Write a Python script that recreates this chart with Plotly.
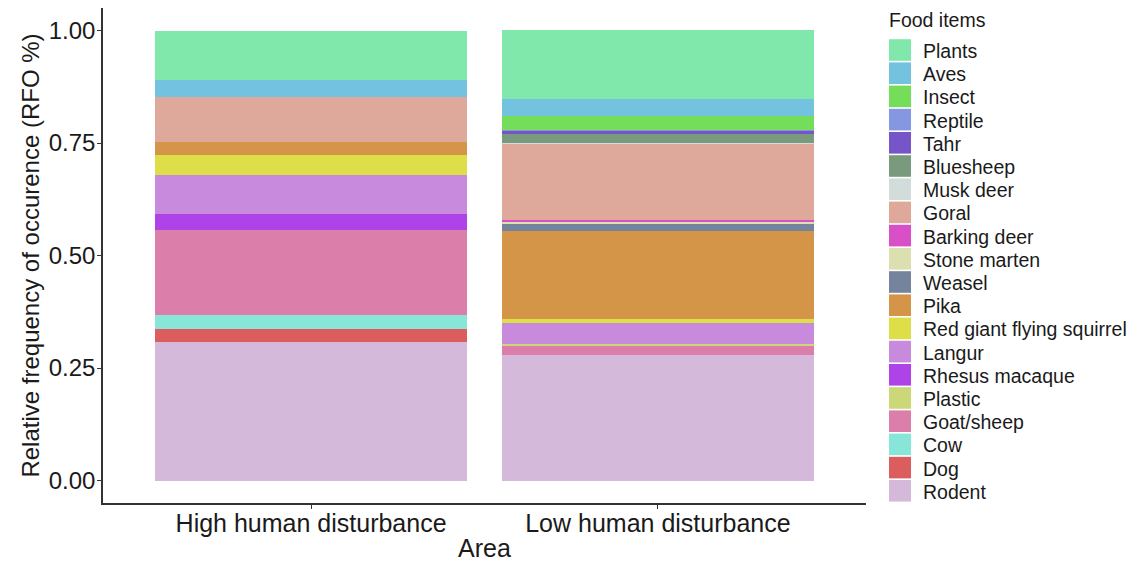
import plotly.graph_objects as go

areas = ["High human disturbance", "Low human disturbance"]

# Food items, listed from the bottom of the stack to the top
items = ["Rodent", "Dog", "Cow", "Goat/sheep", "Plastic", "Rhesus macaque", "Langur",
         "Red giant flying squirrel", "Pika", "Weasel", "Stone marten", "Barking deer",
         "Goral", "Musk deer", "Bluesheep", "Tahr", "Reptile", "Insect", "Aves", "Plants"]

high = [0.307, 0.029, 0.031, 0.189, 0.000, 0.037, 0.085,
        0.045, 0.029, 0.000, 0.000, 0.000,
        0.101, 0.000, 0.000, 0.000, 0.000, 0.000, 0.037, 0.110]

low = [0.280, 0.000, 0.000, 0.020, 0.004, 0.000, 0.046,
       0.010, 0.194, 0.017, 0.005, 0.004,
       0.168, 0.001, 0.021, 0.008, 0.002, 0.030, 0.038, 0.153]

colors = ["#D5B9DB", "#DB5D5E", "#88E6D8", "#DB7FAA", "#CCD878", "#AE44E8", "#C88ADD",
          "#DDDE48", "#D49548", "#74849C", "#DCE0B0", "#D84FC8",
          "#DEA99A", "#D2DCDA", "#7A9A7D", "#7555C8", "#8497E0", "#74DE5A", "#73C3E0", "#7FE8AA"]

legend_title = "Food items"

W, H = 1135, 565
ML, MR, MT, MB = 103, 269, 8, 62
PW, PH = W - ML - MR, H - MT - MB

fig = go.Figure()
for name, h, l, c in zip(items, high, low, colors):
    fig.add_trace(go.Bar(
        x=areas, y=[h, l], name=name,
        marker=dict(color=c, line=dict(width=0)),
        width=0.9, showlegend=False,
    ))

def px_x(p):
    return (p - ML) / PW

def px_y(q):
    return (H - MB - q) / PH

# legend (keys + labels), top entry = Plants
shapes = []
annotations = []
leg_items = list(reversed(items))
leg_colors = list(reversed(colors))
y0c, step = 50.0, 23.2
for i, (name, c) in enumerate(zip(leg_items, leg_colors)):
    cy = y0c + i * step
    shapes.append(dict(type="rect", xref="paper", yref="paper",
                       x0=px_x(889), x1=px_x(911), y0=px_y(cy + 10.8), y1=px_y(cy - 10.8),
                       fillcolor=c, line=dict(width=0), layer="above"))
    annotations.append(dict(xref="paper", yref="paper", x=px_x(921), y=px_y(cy + 1),
                            text=name, showarrow=False, xanchor="left", yanchor="middle",
                            font=dict(size=19.5, color="#1a1a1a")))
annotations.append(dict(xref="paper", yref="paper", x=px_x(887), y=px_y(20),
                        text=legend_title, showarrow=False, xanchor="left", yanchor="middle",
                        font=dict(size=19.5, color="#1a1a1a")))

font_family = "Liberation Sans, Arial, sans-serif"
fig.update_layout(
    barmode="stack",
    width=W, height=H,
    margin=dict(l=ML, r=MR, t=MT, b=MB),
    plot_bgcolor="white", paper_bgcolor="white",
    font=dict(family=font_family, color="#1a1a1a"),
    xaxis=dict(
        range=[-0.6, 1.6], automargin=False,
        showline=True, linecolor="#333333", linewidth=1.5,
        ticks="outside", ticklen=4, tickcolor="#333333", tickwidth=1.2,
        tickfont=dict(size=25, color="#1a1a1a"),
        ticklabelstandoff=-7,
        title=dict(text="Area", font=dict(size=25, color="#1a1a1a"), standoff=4),
        showgrid=False, zeroline=False,
    ),
    yaxis=dict(
        range=[-0.05, 1.05], automargin=False,
        tickvals=[0, 0.25, 0.5, 0.75, 1.0],
        ticktext=["0.00", "0.25", "0.50", "0.75", "1.00"],
        showline=True, linecolor="#333333", linewidth=1.5,
        ticks="outside", ticklen=4, tickcolor="#333333", tickwidth=1.2,
        tickfont=dict(size=24, color="#1a1a1a"),
        ticklabelstandoff=-3,
        title=dict(text="Relative frequency of occurence (RFO %)", font=dict(size=24, color="#1a1a1a"), standoff=2),
        showgrid=False, zeroline=False,
    ),
    shapes=shapes,
    annotations=annotations,
    showlegend=False,
)

fig.write_html("out.html")
